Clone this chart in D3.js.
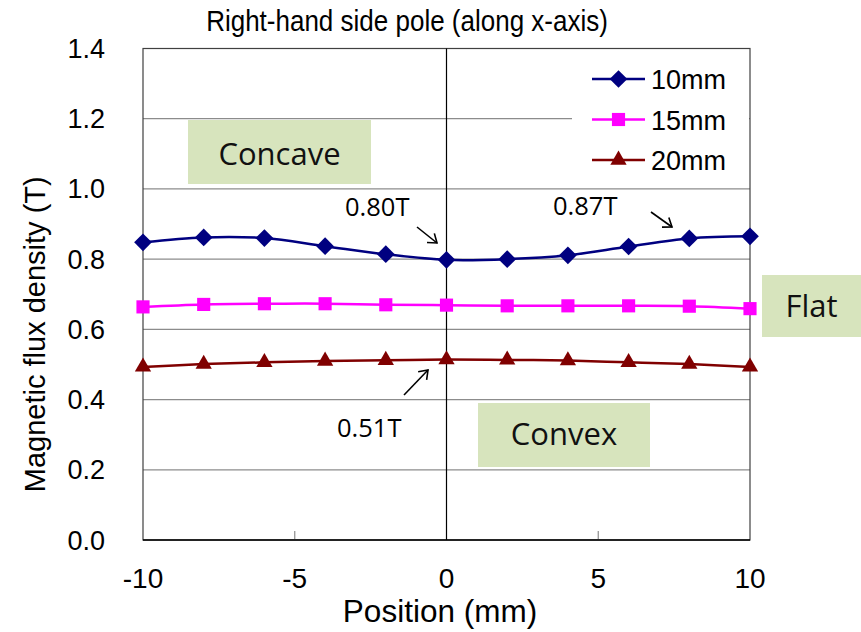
<!DOCTYPE html>
<html>
<head>
<meta charset="utf-8">
<script src="https://cdn.jsdelivr.net/npm/d3@7"></script>
<style>
  html, body { margin: 0; padding: 0; background: #fff; }
  svg { display: block; }
</style>
</head>
<body>
<svg id="chart" width="861" height="632"></svg>
<script>
// Measured field along the x-axis of the right-hand pole
const positions = [-10, -8, -6, -4, -2, 0, 2, 4, 6, 8, 10];
const flux10 = [0.848, 0.862, 0.860, 0.837, 0.814, 0.798, 0.800, 0.811, 0.836, 0.859, 0.865];
const flux15 = [0.664, 0.671, 0.673, 0.673, 0.670, 0.669, 0.667, 0.667, 0.667, 0.666, 0.659];
const flux20 = [0.493, 0.501, 0.506, 0.510, 0.512, 0.514, 0.513, 0.511, 0.506, 0.501, 0.493];
const seriesNames = ["10mm", "15mm", "20mm"];
const xTicks = [-10, -5, 0, 5, 10];
const yTicks = [0, 0.2, 0.4, 0.6, 0.8, 1.0, 1.2, 1.4];

const series = [
  { name: seriesNames[0], values: flux10, color: "#000080", symbol: d3.symbolDiamond2, size: 200 },
  { name: seriesNames[1], values: flux15, color: "#ff00ff", symbol: d3.symbolSquare2, size: 220 },
  { name: seriesNames[2], values: flux20, color: "#800000", symbol: d3.symbolTriangle2, size: 190 }
];

const svg = d3.select("#chart");
const plotL = 143, plotR = 750, plotT = 48.5, plotB = 540;
const x = d3.scaleLinear().domain([-10, 10]).range([plotL, plotR]);
const y = d3.scaleLinear().domain([0, 1.4]).range([plotB, plotT]);
const fontAxis = "'Liberation Sans', Arial, sans-serif";
const fontNote = "'Open Sans', 'Noto Sans', sans-serif";

// Title (slightly tall lettering)
svg.append("text")
  .attr("transform", "translate(407,31) scale(1,1.1)")
  .attr("text-anchor", "middle")
  .attr("font-family", fontAxis).attr("font-size", 26)
  .text("Right-hand side pole (along x-axis)");

// Horizontal grid
svg.append("g").selectAll("line")
  .data(yTicks.filter(v => v > 0 && v < 1.4))
  .join("line")
  .attr("x1", plotL).attr("x2", plotR)
  .attr("y1", d => y(d)).attr("y2", d => y(d))
  .attr("stroke", "#8c8c8c").attr("stroke-width", 1.2);

// Plot frame
svg.append("rect")
  .attr("x", plotL).attr("y", plotT)
  .attr("width", plotR - plotL).attr("height", plotB - plotT)
  .attr("fill", "none").attr("stroke", "#404040").attr("stroke-width", 1.2);

// Vertical line at the pole centre
svg.append("line")
  .attr("x1", x(0)).attr("x2", x(0)).attr("y1", plotT).attr("y2", plotB)
  .attr("stroke", "#000").attr("stroke-width", 1.2);

// Note boxes
const notes = [
  { text: "Concave", x0: 188, y0: 120, w: 183, h: 64, by: 165 },
  { text: "Flat", x0: 762, y0: 275, w: 99, h: 62, by: 317 },
  { text: "Convex", x0: 478, y0: 403, w: 172, h: 64, by: 445 }
];
const noteG = svg.append("g");
notes.forEach(n => {
  noteG.append("rect").attr("x", n.x0).attr("y", n.y0).attr("width", n.w).attr("height", n.h)
    .attr("fill", "#d7e4bd");
  noteG.append("text").attr("x", n.x0 + n.w / 2).attr("y", n.by)
    .attr("text-anchor", "middle").attr("font-family", fontNote).attr("font-size", 31)
    .attr("fill", "#111").text(n.text);
});

// Legend background and entries
const legend = svg.append("g");
legend.append("rect").attr("x", 572).attr("y", 58).attr("width", 177).attr("height", 129).attr("fill", "#fff");
series.forEach((s, i) => {
  const ly = 79 + i * 40.5;
  legend.append("line").attr("x1", 592).attr("x2", 645).attr("y1", ly).attr("y2", ly)
    .attr("stroke", s.color).attr("stroke-width", 2.5);
  legend.append("path").attr("transform", `translate(618.5,${ly})`)
    .attr("d", d3.symbol(s.symbol, s.size)()).attr("fill", s.color);
  legend.append("text").attr("x", 651).attr("y", ly + 10)
    .attr("font-family", fontAxis).attr("font-size", 27).text(s.name);
});

// Bottom axis tick marks
svg.append("g").selectAll("line")
  .data(xTicks.filter(v => v !== -10 && v !== 10 && v !== 0))
  .join("line")
  .attr("x1", d => x(d)).attr("x2", d => x(d))
  .attr("y1", plotB).attr("y2", plotB - 9)
  .attr("stroke", "#8c8c8c").attr("stroke-width", 1.2);
svg.append("line").attr("x1", plotL).attr("x2", plotR).attr("y1", plotB).attr("y2", plotB)
  .attr("stroke", "#000").attr("stroke-width", 1.4);

// Axis labels
svg.append("g").selectAll("text")
  .data(yTicks).join("text")
  .attr("x", 105).attr("y", d => y(d) + 9.5)
  .attr("text-anchor", "end")
  .attr("font-family", fontAxis).attr("font-size", 27)
  .text(d => d.toFixed(1));
svg.append("g").selectAll("text")
  .data(xTicks).join("text")
  .attr("x", d => x(d)).attr("y", 588)
  .attr("text-anchor", "middle")
  .attr("font-family", fontAxis).attr("font-size", 28)
  .text(d => d);
svg.append("text")
  .attr("x", 440).attr("y", 622)
  .attr("text-anchor", "middle")
  .attr("font-family", fontAxis).attr("font-size", 31.5)
  .text("Position (mm)");
svg.append("text")
  .attr("transform", `translate(45,${(plotT + plotB) / 2 + 40}) rotate(-90)`)
  .attr("text-anchor", "middle")
  .attr("font-family", fontAxis).attr("font-size", 29)
  .text("Magnetic flux density (T)");

// Series lines and markers
const line = d3.line()
  .x((d, i) => x(positions[i]))
  .y(d => y(d))
  .curve(d3.curveCatmullRom.alpha(0.5));
series.forEach(s => {
  svg.append("path").datum(s.values)
    .attr("d", line).attr("fill", "none")
    .attr("stroke", s.color).attr("stroke-width", 2.5);
  svg.append("g").selectAll("path")
    .data(s.values).join("path")
    .attr("transform", (d, i) => `translate(${x(positions[i])},${y(d)})`)
    .attr("d", d3.symbol(s.symbol, s.size)())
    .attr("fill", s.color);
});

// Value callouts with arrows
const callouts = [
  { text: "0.80T", tx: 345, ty: 216, x1: 417, y1: 227, x2: 437, y2: 243 },
  { text: "0.87T", tx: 553, ty: 215, x1: 651, y1: 212, x2: 672, y2: 227 },
  { text: "0.51T", tx: 337, ty: 437, x1: 404, y1: 395, x2: 428, y2: 370 }
];
const callG = svg.append("g");
callouts.forEach(c => {
  callG.append("text").attr("x", c.tx).attr("y", c.ty)
    .attr("font-family", fontNote).attr("font-size", 25.5).text(c.text);
  callG.append("line").attr("x1", c.x1).attr("y1", c.y1).attr("x2", c.x2).attr("y2", c.y2)
    .attr("stroke", "#000").attr("stroke-width", 1.6);
  const ang = Math.atan2(c.y2 - c.y1, c.x2 - c.x1);
  const L = 10, spread = Math.PI / 5;
  const pts = [ang + Math.PI - spread, ang + Math.PI + spread].map(a => [c.x2 + L * Math.cos(a), c.y2 + L * Math.sin(a)]);
  callG.append("path")
    .attr("d", `M${pts[0][0]},${pts[0][1]}L${c.x2},${c.y2}L${pts[1][0]},${pts[1][1]}`)
    .attr("fill", "none").attr("stroke", "#000").attr("stroke-width", 1.6);
});
</script>
</body>
</html>
